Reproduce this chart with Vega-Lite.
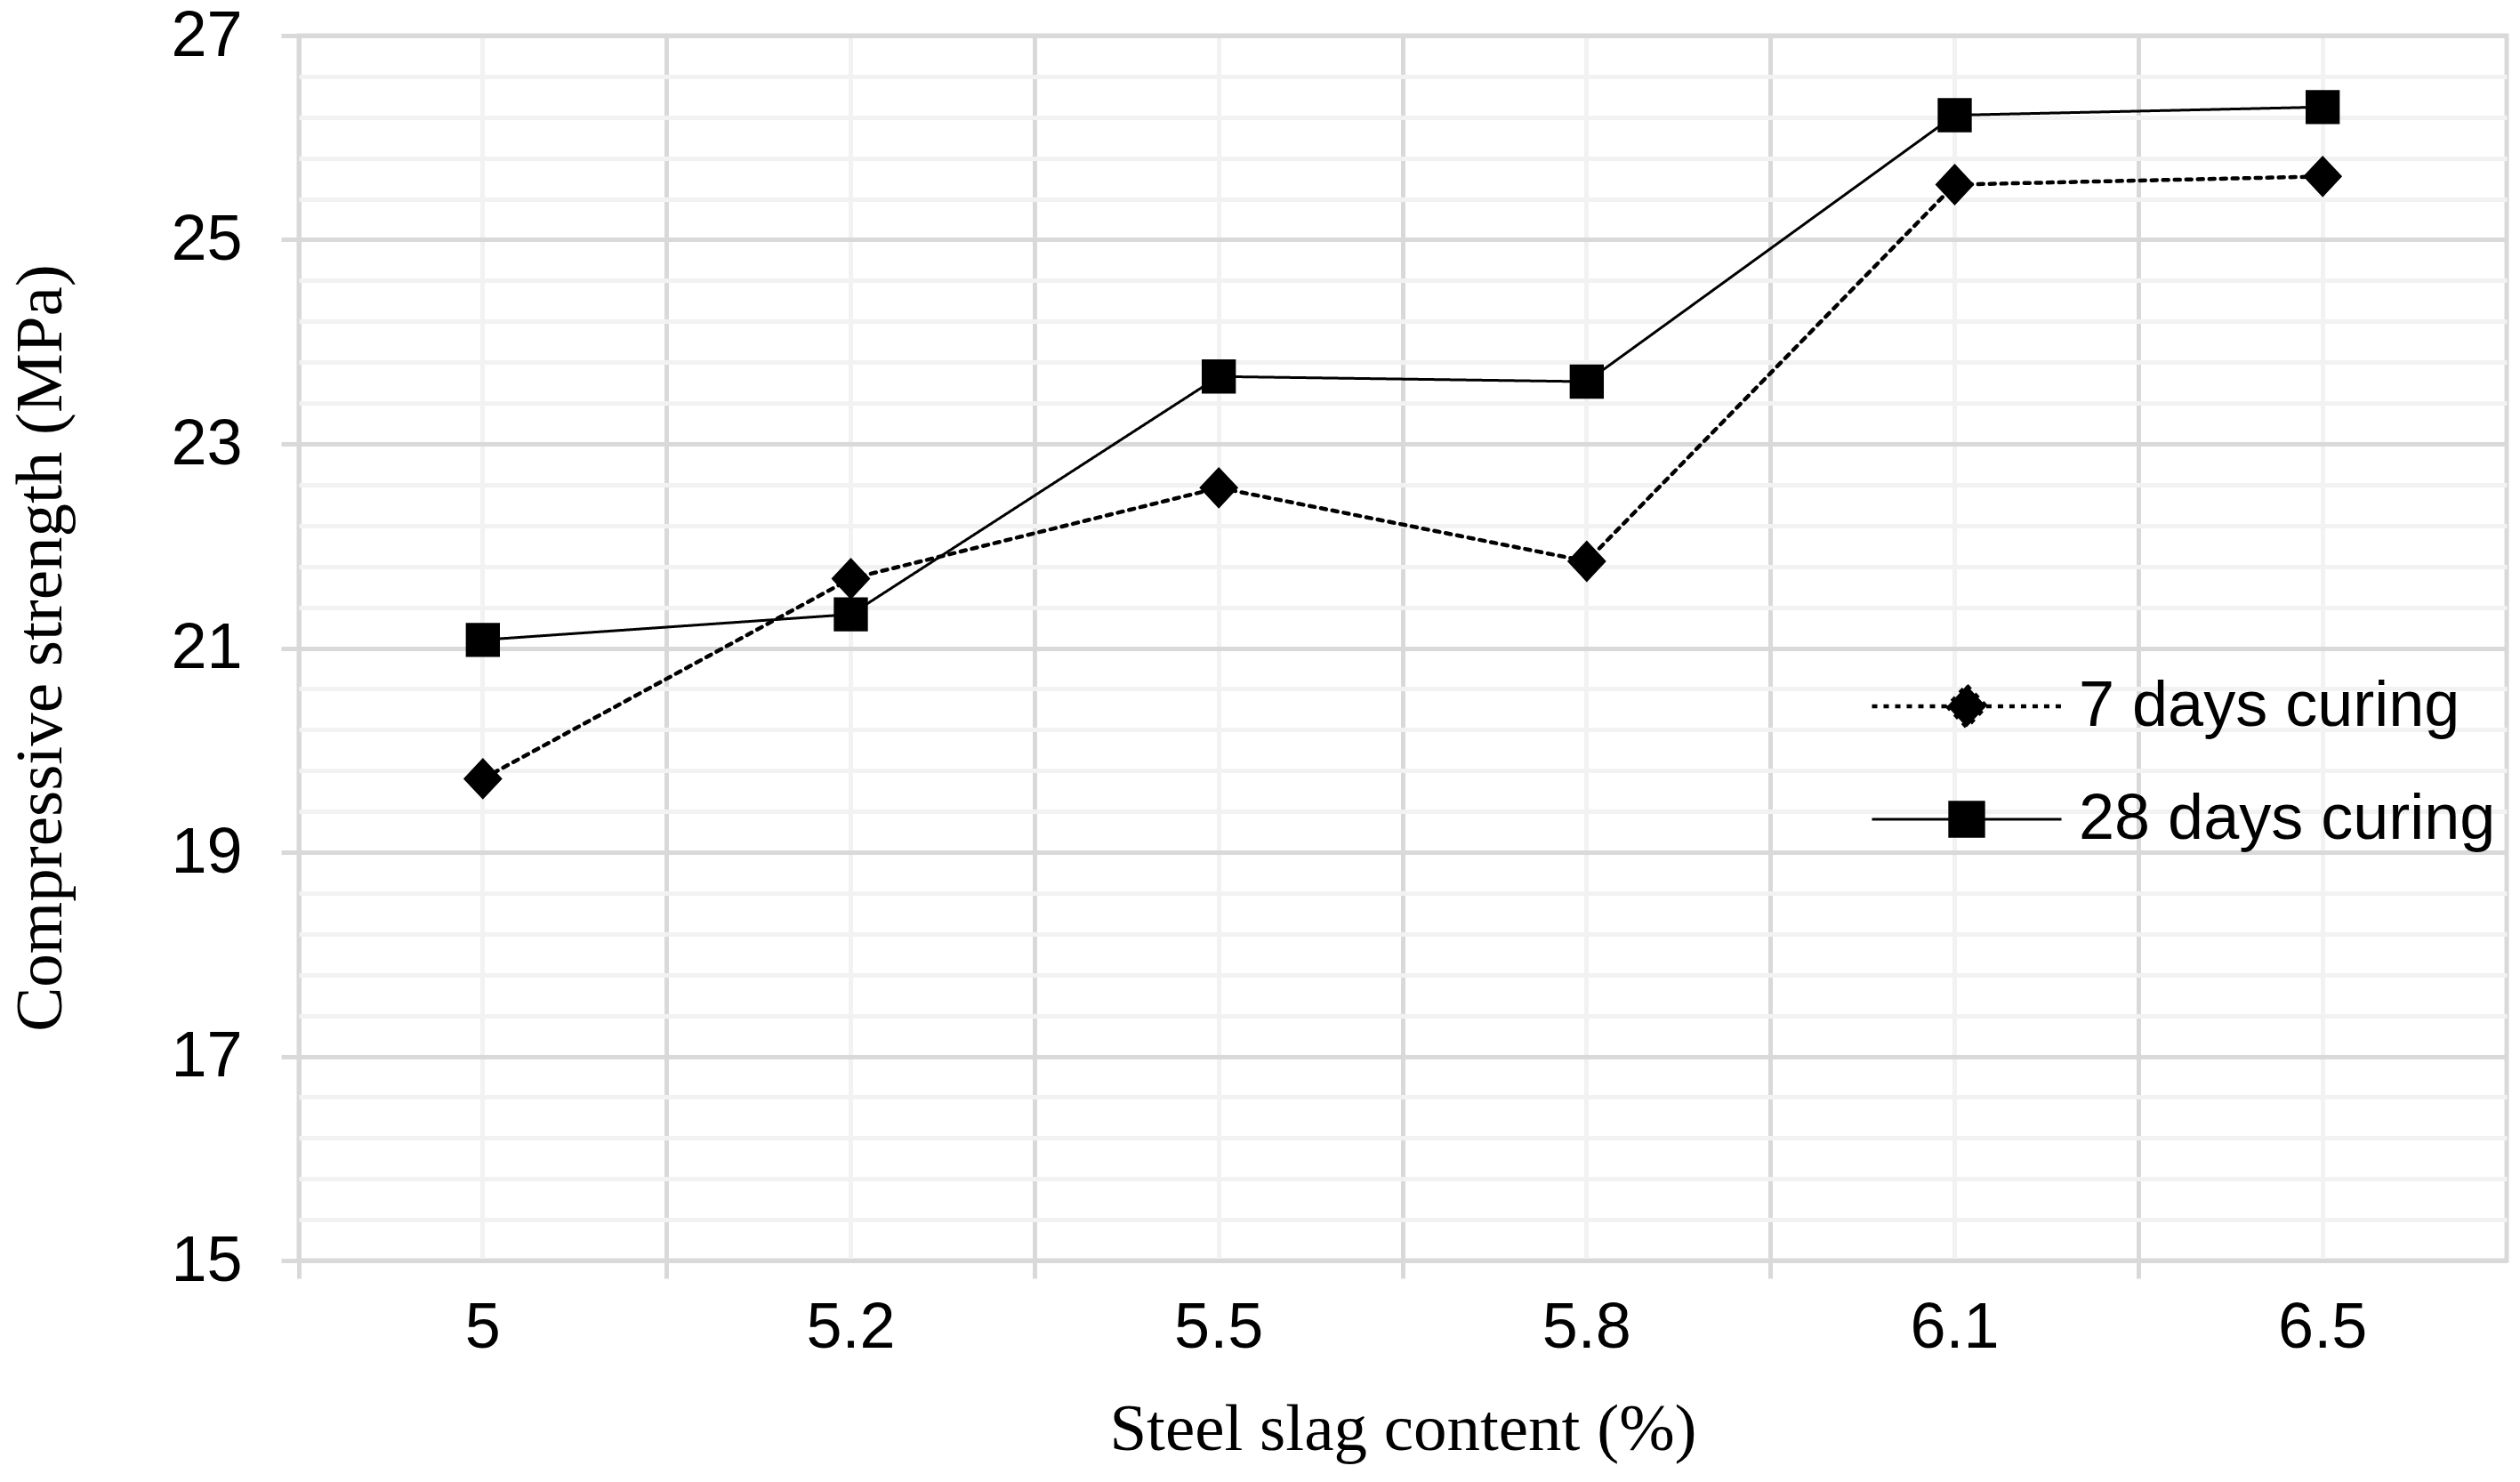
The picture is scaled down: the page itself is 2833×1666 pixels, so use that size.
{
  "$schema": "https://vega.github.io/schema/vega-lite/v6.json",
  "width": 2482,
  "height": 1377,
  "autosize": {"type": "none"},
  "padding": {"left": 336, "top": 40, "right": 15, "bottom": 249},
  "background": "white",
  "config": {
    "view": {"stroke": "#d9d9d9", "strokeWidth": 5},
    "font": "Liberation Sans"
  },
  "data": {
    "values": [
      {"content": 5, "series": "7 days curing", "strength": 19.72},
      {"content": 5.2, "series": "7 days curing", "strength": 21.68},
      {"content": 5.5, "series": "7 days curing", "strength": 22.57},
      {"content": 5.8, "series": "7 days curing", "strength": 21.85},
      {"content": 6.1, "series": "7 days curing", "strength": 25.54},
      {"content": 6.5, "series": "7 days curing", "strength": 25.62},
      {"content": 5, "series": "28 days curing", "strength": 21.08},
      {"content": 5.2, "series": "28 days curing", "strength": 21.33},
      {"content": 5.5, "series": "28 days curing", "strength": 23.66},
      {"content": 5.8, "series": "28 days curing", "strength": 23.61},
      {"content": 6.1, "series": "28 days curing", "strength": 26.22},
      {"content": 6.5, "series": "28 days curing", "strength": 26.3}
    ]
  },
  "encoding": {
    "y": {
      "field": "strength",
      "type": "quantitative",
      "scale": {"domain": [15, 27], "nice": false, "zero": false},
      "axis": {
        "values": [15, 15.4, 15.8, 16.2, 16.6, 17, 17.4, 17.8, 18.2, 18.6, 19, 19.4, 19.8, 20.2, 20.6, 21, 21.4, 21.8, 22.2, 22.6, 23, 23.4, 23.8, 24.2, 24.6, 25, 25.4, 25.8, 26.2, 26.6, 27],
        "grid": true,
        "gridColor": {"condition": {"test": "datum.value % 2 === 1", "value": "#d9d9d9"}, "value": "#f2f2f2"},
        "gridWidth": 5,
        "domain": false,
        "ticks": true,
        "tickSize": 20,
        "tickWidth": 5,
        "tickColor": "#d9d9d9",
        "tickOpacity": {"condition": {"test": "datum.value % 2 === 1", "value": 1}, "value": 0},
        "labelExpr": "datum.value % 2 === 1 ? format(datum.value, 'd') : ''",
        "labelFont": "Liberation Sans",
        "labelFontSize": 72,
        "labelColor": "#000000",
        "labelPadding": 44,
        "labelOverlap": false,
        "labelBound": false,
        "labelFlush": false,
        "title": "Compressive strength (MPa)",
        "titleFont": "Liberation Serif",
        "titleFontSize": 75,
        "titleFontWeight": "normal",
        "titleColor": "#000000",
        "titleX": -291,
        "titleY": 688,
        "titleAngle": -90,
        "titleAlign": "center",
        "titleBaseline": "middle"
      }
    }
  },
  "layer": [
    {
      "mark": {"type": "line", "color": "#000000", "strokeCap": "round"},
      "encoding": {
        "x": {
          "field": "content",
          "type": "ordinal",
          "bandPosition": 0.5,
          "scale": {"type": "band", "paddingInner": 0, "paddingOuter": 0},
          "axis": {
            "orient": "bottom",
            "bandPosition": 0.5,
            "grid": true,
            "gridColor": "#f2f2f2",
            "gridWidth": 5,
            "ticks": false,
            "labels": false,
            "domain": false,
            "title": null
          }
        },
        "strokeDash": {
          "field": "series",
          "type": "nominal",
          "scale": {"domain": ["7 days curing", "28 days curing"], "range": [[6, 7], [1, 0]]},
          "legend": {
            "orient": "none",
            "legendX": 1780,
            "legendY": 718,
            "title": null,
            "padding": 0,
            "symbolSize": 1815,
            "symbolOffset": 59,
            "labelOffset": 90,
            "labelFont": "Liberation Sans",
            "labelFontSize": 72,
            "labelColor": "#000000",
            "labelLimit": 900,
            "rowPadding": 55,
            "symbolStrokeWidth": 3.5,
            "symbolStrokeColor": "#000000",
            "symbolFillColor": "#000000"
          }
        },
        "strokeWidth": {
          "field": "series",
          "type": "nominal",
          "scale": {"domain": ["7 days curing", "28 days curing"], "range": [4.5, 3]},
          "legend": null
        }
      }
    },
    {
      "mark": {"type": "point", "filled": true, "opacity": 1, "color": "#000000", "size": 1815},
      "encoding": {
        "x": {
          "field": "content",
          "type": "ordinal",
          "bandPosition": 0.5,
          "scale": {"type": "band", "paddingInner": 0, "paddingOuter": 0},
          "axis": {
            "orient": "bottom",
            "bandPosition": 0,
            "grid": true,
            "gridColor": "#d9d9d9",
            "gridWidth": 5,
            "ticks": true,
            "tickSize": 20,
            "tickWidth": 5,
            "tickColor": "#d9d9d9",
            "domain": true,
            "domainColor": "#d9d9d9",
            "domainWidth": 5,
            "labelAngle": 0,
            "labelPadding": 20,
            "labelFont": "Liberation Sans",
            "labelFontSize": 72,
            "labelColor": "#000000",
            "labelOverlap": false,
            "title": "Steel slag content (%)",
            "titleFont": "Liberation Serif",
            "titleFontSize": 75,
            "titleFontWeight": "normal",
            "titleColor": "#000000",
            "titleX": 1241,
            "titleY": 189,
            "titleAlign": "center",
            "titleBaseline": "middle"
          }
        },
        "shape": {
          "field": "series",
          "type": "nominal",
          "scale": {
            "domain": ["7 days curing", "28 days curing"],
            "range": ["M-5,0L-1.03,0M1.03,0L5,0M0,-1.1L1.03,0L0,1.1L-1.03,0Z", "M-5,0L-0.9,0M0.9,0L5,0M-0.9,-0.9L0.9,-0.9L0.9,0.9L-0.9,0.9Z"]
          },
          "legend": null
        }
      }
    }
  ],
  "resolve": {"axis": {"x": "independent"}}
}
